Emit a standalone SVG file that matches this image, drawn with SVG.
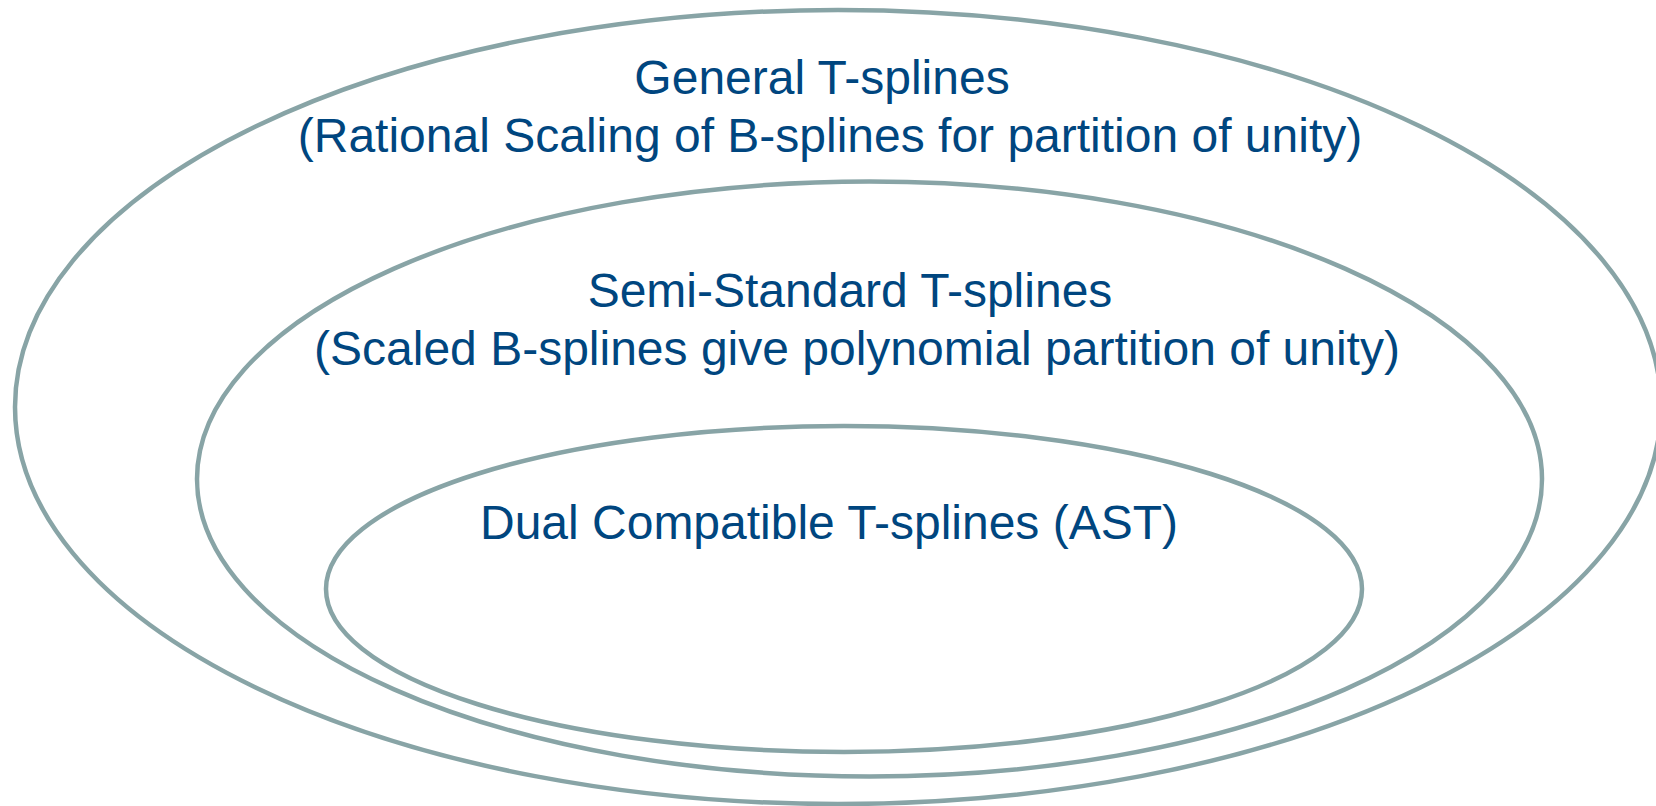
<svg xmlns="http://www.w3.org/2000/svg" width="1656" height="806" viewBox="0 0 1656 806">
<style>
.ring{fill:none;stroke:#88A4A6;stroke-width:4.5}
.lbl{font-family:"Liberation Sans",Arial,sans-serif;font-size:48px;fill:#00467F;text-anchor:middle}
</style>
<rect width="1656" height="806" fill="#ffffff"/>
<g id="general">
<ellipse class="ring" cx="838" cy="407" rx="823" ry="397"/>
<text class="lbl" x="822" y="94">General T-splines</text>
<text class="lbl" x="830" y="152">(Rational Scaling of B-splines for partition of unity)</text>
</g>
<g id="semistandard">
<ellipse class="ring" cx="869.5" cy="479" rx="672.5" ry="297.5"/>
<text class="lbl" x="850" y="307">Semi-Standard T-splines</text>
<text class="lbl" x="857" y="365">(Scaled B-splines give polynomial partition of unity)</text>
</g>
<g id="dual">
<ellipse class="ring" cx="844" cy="589" rx="518" ry="163"/>
<text class="lbl" x="829" y="539">Dual Compatible T-splines (AST)</text>
</g>
<g id="connectors"></g>
</svg>
